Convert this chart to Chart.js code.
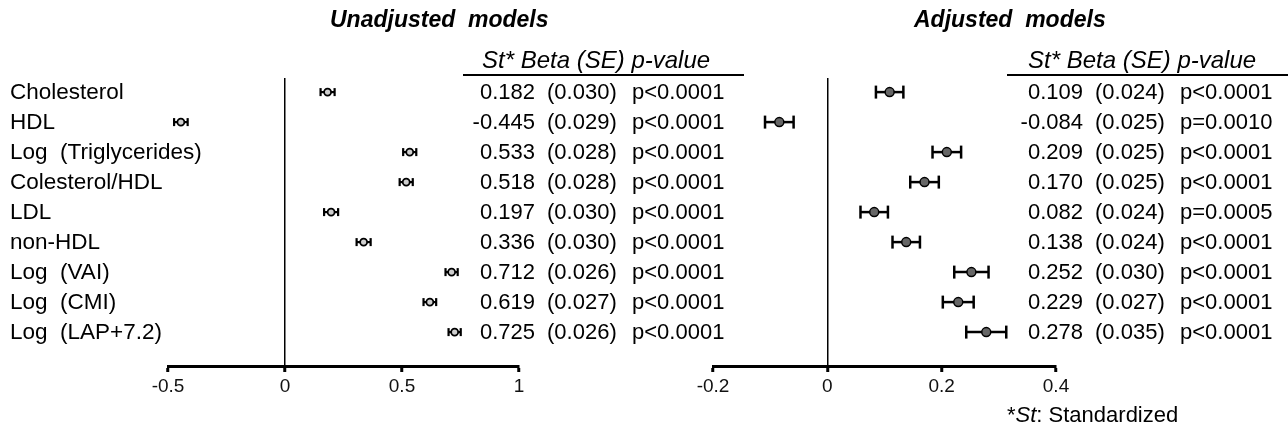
<!DOCTYPE html>
<html>
<head>
<meta charset="utf-8">
<script src="https://cdn.jsdelivr.net/npm/chart.js@4.4.1/dist/chart.umd.min.js"></script>
<style>
  html, body { margin:0; padding:0; background:#fff; }
  body { width:1288px; height:433px; position:relative; overflow:hidden; font-family:"Liberation Sans", Arial, sans-serif; color:#000; }
  canvas { position:absolute; top:0; }
  .t { position:absolute; white-space:pre; line-height:1; }
  .title { font-weight:bold; font-style:italic; font-size:23px; }
  .hdr { font-style:italic; font-size:24px; }
  .rule { position:absolute; height:0; border-top:2px solid #000; }
</style>
</head>
<body>
<canvas id="left" width="760" height="433" style="left:0"></canvas>
<canvas id="right" width="598" height="433" style="left:690px"></canvas>

<div class="t title" style="left:330px; top:8px;">Unadjusted  models</div>
<div class="t title" style="left:914px; top:8px;">Adjusted  models</div>
<div class="t hdr" style="left:482px; top:48px;">St* Beta (SE) p-value</div>
<div class="t hdr" style="left:1028px; top:48px;">St* Beta (SE) p-value</div>
<div class="rule" style="left:463px; width:281px; top:74px;"></div>
<div class="rule" style="left:1007px; width:281px; top:74px;"></div>
<div class="t" style="left:1007px; top:404px; font-size:22px;">*<i>St</i>: Standardized</div>

<script>
// ---------- data ----------
const categories = ['Cholesterol', 'HDL', 'Log  (Triglycerides)', 'Colesterol/HDL', 'LDL', 'non-HDL', 'Log  (VAI)', 'Log  (CMI)', 'Log  (LAP+7.2)'];

const unadjBeta = [0.182, -0.445, 0.533, 0.518, 0.197, 0.336, 0.712, 0.619, 0.725];
const unadjSE   = [0.030, 0.029, 0.028, 0.028, 0.030, 0.030, 0.026, 0.027, 0.026];
const unadjP    = ['p<0.0001', 'p<0.0001', 'p<0.0001', 'p<0.0001', 'p<0.0001', 'p<0.0001', 'p<0.0001', 'p<0.0001', 'p<0.0001'];

const adjBeta = [0.109, -0.084, 0.209, 0.170, 0.082, 0.138, 0.252, 0.229, 0.278];
const adjSE   = [0.024, 0.025, 0.025, 0.025, 0.024, 0.024, 0.030, 0.027, 0.035];
const adjP    = ['p<0.0001', 'p=0.0010', 'p<0.0001', 'p<0.0001', 'p=0.0005', 'p<0.0001', 'p<0.0001', 'p<0.0001', 'p<0.0001'];

const leftTicks  = [-0.5, 0, 0.5, 1];
const rightTicks = [-0.2, 0, 0.2, 0.4];

// ---------- helpers ----------
const FONT = '"Liberation Sans", Arial, sans-serif';

function buildDatasets(beta, se, style) {
  const sets = [];
  // centre points first (drawn on top)
  sets.push({
    data: beta.map((b, i) => ({ x: b, y: i })),
    showLine: false,
    pointStyle: 'circle',
    pointRadius: style.r,
    pointBackgroundColor: style.fill,
    pointBorderColor: '#000',
    pointBorderWidth: style.pbw
  });
  beta.forEach((b, i) => {
    sets.push({
      data: [{ x: b - se[i], y: i }, { x: b + se[i], y: i }],
      showLine: true,
      borderColor: '#000',
      borderWidth: style.lw,
      pointStyle: 'line',
      rotation: 90,
      pointRadius: style.cap,
      pointBorderColor: '#000',
      pointBorderWidth: style.lw
    });
  });
  return sets;
}

function textPlugin(beta, se, p, cols, withLabels) {
  return {
    id: 'texts',
    afterDraw(chart) {
      const ctx = chart.ctx;
      const ys = chart.scales.y;
      ctx.save();
      ctx.fillStyle = '#000';
      ctx.textBaseline = 'middle';
      beta.forEach((b, i) => {
        const y = ys.getPixelForValue(i) + 1;
        if (withLabels) {
          ctx.font = '22.5px ' + FONT;
          ctx.textAlign = 'left';
          ctx.fillText(categories[i], 10, y);
        }
        ctx.font = '22px ' + FONT;
        ctx.textAlign = 'right';
        ctx.fillText(b.toFixed(3), cols[0], y);
        ctx.textAlign = 'left';
        ctx.fillText('(' + se[i].toFixed(3) + ')', cols[1], y);
        ctx.fillText(p[i], cols[2], y);
      });
      ctx.restore();
    }
  };
}

function makeChart(id, beta, se, p, ticks, opts) {
  return new Chart(document.getElementById(id), {
    type: 'scatter',
    data: { datasets: buildDatasets(beta, se, opts.style) },
    plugins: [textPlugin(beta, se, p, opts.cols, opts.showLabels)],
    options: {
      responsive: false,
      animation: false,
      devicePixelRatio: 1,
      layout: { padding: opts.padding },
      plugins: { legend: { display: false }, tooltip: { enabled: false } },
      scales: {
        x: {
          type: 'linear',
          min: ticks[0],
          max: ticks[ticks.length - 1],
          afterBuildTicks: s => { s.ticks = ticks.map(v => ({ value: v })); },
          afterFit: s => { s.height = 67; },
          border: { display: true, color: '#000', width: 3 },
          grid: {
            drawOnChartArea: true,
            color: c => (c.tick && c.tick.value === 0) ? '#000' : 'rgba(0,0,0,0)',
            lineWidth: 1.5,
            tickColor: '#000',
            tickWidth: 3,
            tickLength: 6
          },
          ticks: {
            color: '#111',
            padding: 3,
            font: { size: 19, family: FONT },
            maxRotation: 0,
            callback: v => String(v)
          }
        },
        y: {
          type: 'linear',
          reverse: true,
          min: -0.47,
          max: 9.13,
          display: false
        }
      }
    }
  });
}

makeChart('left', unadjBeta, unadjSE, unadjP, leftTicks, {
  showLabels: true,
  padding: { left: 168, right: 241, top: 78, bottom: 0 },
  cols: [535, 547, 632],
  style: { r: 3.5, fill: '#cfcfcf', pbw: 1.8, lw: 2.2, cap: 4 }
});

makeChart('right', adjBeta, adjSE, adjP, rightTicks, {
  showLabels: false,
  padding: { left: 23, right: 232, top: 78, bottom: 0 },
  cols: [393, 405, 490],
  style: { r: 4.5, fill: '#666', pbw: 1.5, lw: 2.5, cap: 6.5 }
});
</script>
</body>
</html>
